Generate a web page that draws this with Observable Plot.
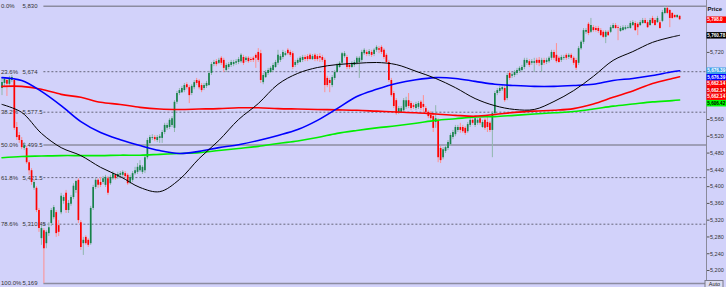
<!DOCTYPE html>
<html><head><meta charset="utf-8">
<script src="https://cdn.jsdelivr.net/npm/d3@7"></script>
<script src="https://cdn.jsdelivr.net/npm/@observablehq/plot@0.6"></script>
<style>
html,body{margin:0;padding:0;background:#d2d2fa;}
#chart{width:726px;height:287px;overflow:hidden}
</style></head><body><div id="chart"></div>
<script>
// candles: [open, high, low, close]
const ohlc = [
[5634,5658,5617,5648],[5646,5660,5639,5656],[5653,5658,5615,5644],[5644,5663,5639,5658],[5653,5665,5648,5660],
[5653,5658,5534,5539],[5541,5553,5510,5517],[5522,5529,5503,5510],[5510,5517,5488,5493],[5491,5505,5486,5498],
[5491,5496,5453,5457],[5457,5462,5427,5438],[5438,5443,5403,5410],[5396,5415,5391,5410],[5396,5400,5338,5343],
[5343,5348,5291,5300],[5276,5307,5260,5300],[5295,5300,5169,5252],[5264,5295,5252,5291],[5288,5314,5281,5302],
[5312,5348,5305,5343],[5326,5355,5321,5350],[5338,5343,5279,5288],[5307,5319,5281,5291],[5338,5384,5333,5377],
[5365,5379,5358,5374],[5384,5391,5336,5343],[5343,5367,5336,5360],[5358,5379,5353,5374],[5374,5407,5369,5401],
[5391,5415,5384,5412],[5415,5419,5312,5319],[5314,5319,5248,5255],[5264,5279,5236,5272],[5279,5283,5260,5264],
[5272,5276,5255,5260],[5264,5353,5260,5348],[5348,5403,5343,5398],[5398,5419,5393,5415],[5415,5419,5396,5403],
[5410,5422,5398,5403],[5410,5424,5405,5419],[5403,5427,5398,5422],[5419,5424,5379,5384],[5407,5427,5403,5422],
[5419,5436,5415,5431],[5427,5431,5415,5419],[5422,5434,5417,5429],[5427,5436,5422,5431],[5427,5438,5422,5434],
[5431,5436,5419,5424],[5427,5431,5403,5407],[5410,5427,5405,5422],[5415,5436,5410,5431],[5431,5446,5427,5438],
[5434,5455,5429,5446],[5438,5462,5434,5450],[5434,5450,5429,5446],[5438,5474,5431,5469],[5469,5515,5464,5510],
[5503,5522,5498,5517],[5515,5524,5510,5517],[5517,5522,5507,5512],[5510,5522,5505,5517],[5515,5524,5503,5519],
[5515,5534,5503,5529],[5529,5551,5524,5546],[5539,5551,5534,5546],[5541,5562,5536,5558],[5546,5567,5541,5562],
[5539,5605,5529,5601],[5601,5627,5596,5622],[5622,5634,5617,5629],[5624,5639,5622,5634],[5629,5646,5624,5641],
[5643,5648,5631,5636],[5636,5641,5598,5617],[5622,5643,5617,5639],[5636,5653,5631,5648],[5653,5658,5641,5646],
[5651,5655,5631,5636],[5641,5646,5624,5629],[5634,5646,5629,5641],[5639,5651,5634,5646],[5641,5675,5639,5670],
[5670,5696,5665,5691],[5691,5701,5686,5696],[5698,5703,5686,5691],[5694,5706,5691,5701],[5706,5710,5689,5694],
[5701,5706,5672,5682],[5677,5694,5672,5689],[5684,5696,5679,5691],[5689,5701,5684,5696],[5691,5701,5686,5696],
[5694,5703,5689,5698],[5696,5708,5691,5703],[5698,5717,5694,5713],[5708,5713,5689,5694],[5701,5710,5696,5706],
[5706,5710,5694,5698],[5703,5708,5696,5701],[5706,5710,5696,5701],[5713,5717,5682,5706],[5720,5729,5696,5701],
[5717,5725,5646,5653],[5648,5670,5643,5665],[5660,5677,5658,5672],[5670,5682,5665,5677],[5672,5686,5670,5682],
[5677,5694,5672,5689],[5684,5701,5682,5696],[5694,5725,5689,5713],[5701,5715,5696,5710],[5708,5725,5703,5720],
[5713,5722,5710,5717],[5725,5729,5713,5717],[5720,5725,5708,5713],[5717,5722,5679,5684],[5689,5701,5684,5696],
[5694,5706,5689,5701],[5696,5710,5694,5706],[5701,5713,5696,5708],[5708,5713,5698,5703],[5710,5715,5698,5703],
[5713,5717,5701,5703],[5703,5715,5701,5710],[5713,5717,5698,5703],[5710,5715,5698,5703],[5710,5717,5696,5706],
[5708,5713,5696,5701],[5701,5706,5624,5641],[5658,5663,5636,5641],[5653,5658,5624,5646],[5641,5665,5636,5660],
[5658,5677,5653,5672],[5672,5694,5670,5689],[5684,5698,5682,5694],[5694,5720,5689,5717],[5710,5722,5706,5717],
[5708,5713,5679,5684],[5689,5694,5679,5684],[5684,5698,5682,5694],[5689,5701,5684,5696],[5694,5710,5689,5706],
[5696,5710,5658,5706],[5701,5725,5696,5720],[5717,5729,5713,5725],[5720,5725,5710,5715],[5715,5727,5710,5722],
[5720,5725,5708,5713],[5715,5729,5710,5725],[5725,5736,5720,5732],[5729,5734,5717,5725],[5732,5736,5715,5720],
[5725,5729,5703,5708],[5713,5717,5691,5696],[5696,5701,5648,5653],[5653,5658,5613,5617],[5622,5627,5586,5591],
[5605,5610,5570,5574],[5577,5591,5572,5586],[5577,5591,5574,5586],[5581,5610,5577,5605],[5589,5613,5584,5605],
[5605,5622,5586,5591],[5598,5603,5581,5586],[5593,5598,5584,5589],[5586,5601,5581,5596],[5589,5603,5584,5598],
[5601,5605,5581,5586],[5596,5617,5574,5589],[5586,5591,5572,5577],[5577,5581,5562,5567],[5570,5579,5553,5562],
[5567,5572,5529,5539],[5553,5593,5539,5562],[5558,5562,5457,5469],[5491,5496,5455,5462],[5469,5493,5464,5488],
[5484,5498,5479,5493],[5491,5510,5486,5505],[5500,5527,5496,5522],[5517,5534,5512,5529],[5524,5546,5519,5541],
[5534,5546,5529,5541],[5541,5551,5527,5534],[5541,5546,5527,5531],[5539,5543,5522,5527],[5531,5553,5527,5548],
[5546,5562,5541,5558],[5558,5562,5546,5551],[5546,5567,5541,5562],[5551,5562,5546,5558],[5562,5567,5546,5551],
[5541,5558,5539,5553],[5558,5562,5534,5539],[5553,5565,5529,5541],[5551,5555,5529,5534],[5534,5579,5469,5574],
[5574,5627,5570,5622],[5622,5634,5617,5629],[5627,5639,5622,5634],[5631,5641,5627,5636],[5634,5639,5601,5605],
[5610,5670,5605,5665],[5670,5675,5653,5658],[5663,5672,5658,5667],[5665,5677,5660,5672],[5670,5682,5665,5677],
[5675,5686,5670,5682],[5677,5689,5672,5684],[5684,5706,5679,5701],[5694,5706,5689,5701],[5698,5703,5684,5689],
[5694,5703,5689,5698],[5694,5706,5672,5698],[5701,5706,5689,5694],[5701,5708,5686,5694],[5689,5706,5672,5701],
[5701,5706,5689,5694],[5696,5706,5691,5701],[5698,5710,5694,5706],[5706,5725,5701,5720],[5720,5725,5701,5706],
[5713,5741,5694,5698],[5706,5710,5694,5696],[5701,5713,5696,5708],[5706,5713,5701,5708],[5713,5717,5701,5706],
[5708,5717,5703,5713],[5713,5717,5701,5706],
[5706,5710,5689,5694],[5701,5706,5677,5682],[5694,5734,5689,5729],[5729,5748,5725,5744],[5744,5777,5739,5772],
[5768,5777,5763,5772],[5787,5791,5760,5765],[5768,5801,5765,5784],[5779,5784,5768,5772],[5777,5782,5768,5772],
[5777,5782,5765,5770],[5772,5777,5758,5760],[5768,5772,5753,5756],[5756,5772,5741,5768],[5768,5772,5758,5760],
[5768,5784,5765,5779],[5777,5789,5775,5784],[5784,5789,5775,5777],[5779,5784,5748,5777],[5770,5782,5768,5777],
[5772,5784,5770,5779],[5775,5784,5772,5779],[5777,5784,5775,5779],[5777,5794,5775,5789],[5784,5796,5782,5791],
[5789,5794,5770,5772],[5787,5791,5760,5779],[5784,5796,5782,5791],[5789,5801,5787,5796],[5796,5801,5787,5789],
[5791,5796,5777,5779],[5784,5801,5782,5796],[5801,5806,5787,5789],[5796,5801,5782,5784],[5791,5806,5789,5801],
[5791,5796,5775,5777],[5794,5820,5791,5815],[5813,5830,5810,5825],[5825,5828,5810,5813],[5820,5822,5779,5801],
[5813,5815,5799,5801],[5808,5810,5801,5803],[5803,5810,5801,5808],[5806,5808,5796,5798]
];

// moving averages sampled at candle indices
const maIndex = [0,8,16,24,32,40,48,56,64,72,80,88,96,104,112,120,128,136,144,152,160,168,176,184,192,200,208,216,224,232,240,248,256,264,272,275];
const maBlack = [5596,5577,5527,5493,5474,5446,5424,5398,5388,5417,5467,5510,5560,5598,5644,5670,5684,5691,5694,5696,5691,5675,5658,5636,5610,5593,5584,5584,5603,5629,5663,5701,5722,5744,5757,5760.78];
const maBlue  = [5660,5653,5627,5593,5555,5529,5512,5498,5486,5479,5484,5493,5500,5510,5522,5536,5558,5586,5615,5632,5646,5655,5660,5658,5651,5644,5641,5639,5639,5641,5644,5653,5658,5665,5674,5676.39];
const maRed   = [5639,5639,5632,5620,5613,5601,5596,5589,5585,5584,5585,5586,5588,5588,5586,5585,5584,5583,5582,5580,5578,5576,5573,5570,5568,5572,5577,5580,5582,5586,5597,5613,5628,5646,5658,5662.14];
const maGreen = [5469,5472,5473,5474,5474,5474,5475,5475,5477,5479,5481,5486,5491,5496,5503,5509,5517,5527,5534,5540,5545,5551,5558,5562,5566,5567,5570,5573,5576,5579,5585,5592,5597,5602,5605,5606.42];

// Fibonacci levels
const fibPct = ["0.0%","23.6%","38.2%","50.0%","61.8%","78.6%","100.0%"];
const fibPrice = [5830,5674,5577.5,5499.5,5421.5,5310.45,5169];
const fibLabel = ["5,830","5,674","5,577.5","5,499.5","5,421.5","5,310.45","5,169"];
const fibDashed = [false,true,true,false,true,true,false];
const fibStartIndex = 17;

// price axis
const yTicks = [5200,5240,5280,5320,5360,5400,5440,5480,5520,5560,5720];

// price tags on the axis
const tagValues = [5798.0,5760.78,5676.39,5676.39,5662.14,5662.14,5662.14,5606.42];
const tagLabels = ["5,798.0","5,760.78","5,676.39","5,676.39","5,662.14","5,662.14","5,662.14","5,606.42"];
const tagColors = ["#ff0000","#000000","#3ba0e6","#0000ff","#ff0000","#f00000","#ff0000","#00ff00"];
const tagTextColors = ["#ffffff","#ffffff","#ffffff","#ffffff","#ffffff","#ffffff","#ffffff","#000000"];

const W = 726, H = 287, MR = 20;
const xDomain = [-0.61, 285.9];
const yDomain = [5159.5, 5843.8];
const xs = d3.scaleLinear().domain(xDomain).range([0, W - MR]);
const ys = d3.scaleLinear().domain(yDomain).range([H, 0]);

const candles = ohlc.map(([o,h,l,c], i) => ({i, o, h, l, c, up: c >= o}));
const up = candles.filter(d => d.up), down = candles.filter(d => !d.up);
const maData = vals => maIndex.map((i, k) => ({i, v: vals[k]}));
const fib = fibPrice.map((p, k) => ({p, pct: fibPct[k], lab: fibLabel[k], dashed: fibDashed[k]}));

let prev = -Infinity;
const tags = tagValues.map((v, k) => {
  let py = ys(v);
  if (py < prev + 6.5) py = prev + 6.5;
  prev = py;
  return {v: ys.invert(py), label: tagLabels[k], fill: tagColors[k], text: tagTextColors[k]};
});

const tagMarks = tags.flatMap(t => [
  Plot.ruleY([t], {y: "v", x1: xs.invert(706.5), x2: xs.invert(728), stroke: t.fill, strokeWidth: 6.5}),
  Plot.text([t], {y: "v", x: xs.invert(706.8), text: "label", textAnchor: "start", fill: t.text, fontSize: 4.6, fontWeight: "bold"})
]);

const chart = Plot.plot({
  width: W, height: H,
  marginLeft: 0, marginRight: MR, marginTop: 0, marginBottom: 0,
  x: {domain: xDomain, axis: null},
  y: {domain: yDomain, axis: null},
  style: {background: "#d2d2fa", fontFamily: "'Liberation Sans', 'DejaVu Sans', sans-serif", fontSize: "5.5px", color: "#333"},
  marks: [
    Plot.ruleY(fib.filter(d => !d.dashed), {y: "p", x1: fibStartIndex, x2: xDomain[1], stroke: "#8c8ca0", strokeWidth: 1.5}),
    Plot.ruleY(fib.filter(d => d.dashed), {y: "p", x1: fibStartIndex, x2: xDomain[1], stroke: "#66667a", strokeDasharray: "2,2"}),
    Plot.text(fib, {y: "p", x: xs.invert(0.5), text: "pct", textAnchor: "start", fill: "#333", fontSize: 6}),
    Plot.text(fib, {y: "p", x: xs.invert(22), text: "lab", textAnchor: "start", fill: "#333", fontSize: 6}),
    Plot.ruleX(up, {x: "i", y1: "l", y2: "h", stroke: "#8fb6ac", strokeWidth: 1}),
    Plot.ruleX(down, {x: "i", y1: "l", y2: "h", stroke: "#ff8f8f", strokeWidth: 1}),
    Plot.ruleX(up, {x: "i", y1: "o", y2: "c", stroke: "#17824a", strokeWidth: 1.7}),
    Plot.ruleX(down, {x: "i", y1: "o", y2: "c", stroke: "#ff0000", strokeWidth: 1.7}),
    Plot.line(maData(maGreen), {x: "i", y: "v", stroke: "#00ee00", strokeWidth: 1.6, curve: "catmull-rom"}),
    Plot.line(maData(maRed), {x: "i", y: "v", stroke: "#ff0000", strokeWidth: 1.6, curve: "catmull-rom"}),
    Plot.line(maData(maBlue), {x: "i", y: "v", stroke: "#0000ff", strokeWidth: 1.6, curve: "catmull-rom"}),
    Plot.line(maData(maBlack), {x: "i", y: "v", stroke: "#000000", strokeWidth: 1, curve: "catmull-rom"}),
    Plot.ruleX([xDomain[1]], {stroke: "#8a8a9a"}),
    Plot.axisY({anchor: "right", ticks: yTicks, tickFormat: d3.format(","), tickSize: 2.5, tickPadding: 1, label: null, fontSize: 5.5, stroke: "#555"}),
    Plot.text(["Price"], {x: xs.invert(707), y: ys.invert(8.5), text: d => d, textAnchor: "start", fill: "#111", fontSize: 6, fontWeight: "bold"}),
    ...tagMarks,
    Plot.rect([0], {x1: xs.invert(705), x2: xs.invert(723), y1: ys.invert(280.5), y2: ys.invert(287.5), fill: "#dcdcf2", stroke: "#7a7a8a"}),
    Plot.text(["Auto"], {x: xs.invert(714), y: ys.invert(284), text: d => d, fill: "#222", fontSize: 5.5})
  ]
});
document.getElementById("chart").appendChild(chart);
</script>
</body></html>
